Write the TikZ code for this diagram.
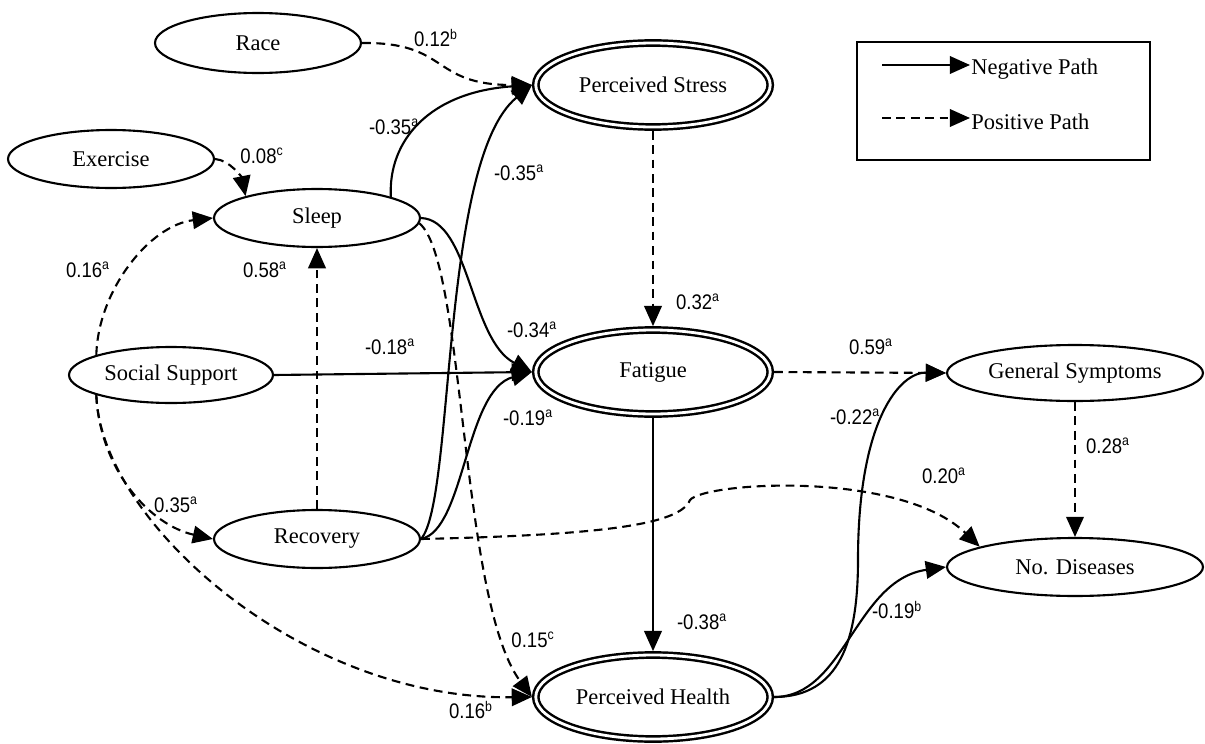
\documentclass[tikz,border=0pt]{standalone}
\usepackage{graphicx}
\usepackage{fontspec}
\setmainfont{Liberation Serif}
\newfontfamily\lblfont{Liberation Sans}
\usetikzlibrary{arrows.meta,shapes.geometric}
\newcommand{\pathlbl}[2]{\scalebox{0.88}[1]{#1\textsuperscript{#2}}}
\begin{document}
\begin{tikzpicture}[x=0.02cm,y=-0.02cm,
  every node/.style={inner sep=0pt},
  var/.style={ellipse, draw, line width=1.2pt, minimum width=4.12cm, minimum height=1.16cm, font=\fontsize{12.8}{15}\selectfont},
  latent/.style={ellipse, draw, line width=1.4pt, double, double distance=1.6pt, outer sep=2.2pt, minimum width=4.69cm, minimum height=1.68cm, font=\fontsize{12.8}{15}\selectfont},
  negarrow/.style={line width=1.2pt, -{Triangle[length=11.5pt,width=10pt]}},
  posarrow/.style={negarrow, dash pattern=on 5pt off 3.2pt},
  lbl/.style={font=\lblfont\fontsize{12}{14}\selectfont},
  legtext/.style={anchor=west, font=\fontsize{12.8}{15}\selectfont}
]
\useasboundingbox (0,0) rectangle (1205,744);

% nodes
\node[var, minimum height=1.2cm] (race) at (258,43) {Race};
\node[latent] (ps) at (653,85) {Perceived Stress};
\node[var] (ex) at (111,159) {Exercise};
\node[var] (sleep) at (317,218) {Sleep};
\node[var, minimum width=4.08cm, minimum height=1.12cm] (soc) at (171,375) {Social Support};
\node[latent] (fat) at (653,372) {Fatigue};
\node[var, minimum width=5.12cm, minimum height=1.12cm] (gs) at (1075,373) {General Symptoms};
\node[var] (rec) at (317,539) {Recovery};
\node[var, minimum width=5.12cm] (nd) at (1075,567) {No. Diseases};
\node[latent] (ph) at (653,697) {Perceived Health};

% legend
\node[draw, line width=1.2pt, minimum width=5.86cm, minimum height=2.36cm] (legend) at (1003.5,101) {};
\coordinate (nA) at (882,65);
\coordinate (nB) at (970,65);
\coordinate (pA) at (882,118);
\coordinate (pB) at (970,118);
\node[legtext] (ntxt) at (971,69) {Negative Path};
\node[legtext] (ptxt) at (971,122) {Positive Path};
\draw[negarrow] (nA) -- (nB);
\draw[posarrow] (pA) -- (pB);

% connectors
\draw[posarrow] (race.east) .. controls (450,42) and (430,85) .. (ps.west);
\draw[posarrow] (ex.east) .. controls (230,160) and (242,178) .. (sleep.163);
\draw[posarrow] (soc.165) .. controls (98,290) and (150,225) .. (sleep.west);
\draw[negarrow] (sleep.16.5) .. controls (388,140) and (430,92) .. (ps.west);
\draw[negarrow] (rec.east) .. controls (455,500) and (440,160) .. (ps.west);
\draw[negarrow] (sleep.east) .. controls (470,220) and (470,340) .. (fat.west);
\draw[negarrow] (soc.east) -- (fat.west);
\draw[negarrow] (rec.east) .. controls (465,530) and (465,390) .. (fat.west);
\draw[posarrow] (rec.north) -- (sleep.south);
\draw[posarrow] (soc.195) .. controls (100,470) and (150,525) .. (rec.west);
\draw[posarrow] (soc.195) .. controls (100,520) and (300,700) .. (ph.west);
\draw[posarrow] (sleep.-3) .. controls (465,260) and (460,600) .. (ph.west);
\draw[posarrow] (ps.south) -- (fat.north);
\draw[posarrow] (fat.east) -- (gs.west);
\draw[negarrow] (fat.south) -- (ph.north);
\draw[posarrow] (gs.south) -- (nd.north);
\draw[posarrow] (rec.east) .. controls (600,535) and (680,525) .. (690,500)
  .. controls (705,482) and (900,470) .. (nd.168);
\draw[negarrow] (ph.east) .. controls (840,697) and (858,640) .. (858,560)
  .. controls (858,420) and (900,372) .. (gs.west);
\draw[negarrow] (ph.east) .. controls (845,697) and (855,580) .. (nd.west);

% labels
\node[lbl] (l1) at (436,38) {\pathlbl{0.12}{b}};
\node[lbl] (l2) at (262,156) {\pathlbl{0.08}{c}};
\node[lbl] (l3) at (394,127) {\pathlbl{-0.35}{a}};
\node[lbl] (l4) at (519,173) {\pathlbl{-0.35}{a}};
\node[lbl] (l5) at (88,270) {\pathlbl{0.16}{a}};
\node[lbl] (l6) at (265,270) {\pathlbl{0.58}{a}};
\node[lbl] (l7) at (698,302) {\pathlbl{0.32}{a}};
\node[lbl] (l8) at (532,330) {\pathlbl{-0.34}{a}};
\node[lbl] (l9) at (390,347) {\pathlbl{-0.18}{a}};
\node[lbl] (l10) at (871,347) {\pathlbl{0.59}{a}};
\node[lbl] (l11) at (528,418) {\pathlbl{-0.19}{a}};
\node[lbl] (l12) at (855,417) {\pathlbl{-0.22}{a}};
\node[lbl] (l13) at (1108,446) {\pathlbl{0.28}{a}};
\node[lbl] (l14) at (944,476) {\pathlbl{0.20}{a}};
\node[lbl] (l15) at (176,505) {\pathlbl{0.35}{a}};
\node[lbl] (l16) at (702,622) {\pathlbl{-0.38}{a}};
\node[lbl] (l17) at (897,610) {\pathlbl{-0.19}{b}};
\node[lbl] (l18) at (533,640) {\pathlbl{0.15}{c}};
\node[lbl] (l19) at (471,710) {\pathlbl{0.16}{b}};
\end{tikzpicture}
\end{document}
